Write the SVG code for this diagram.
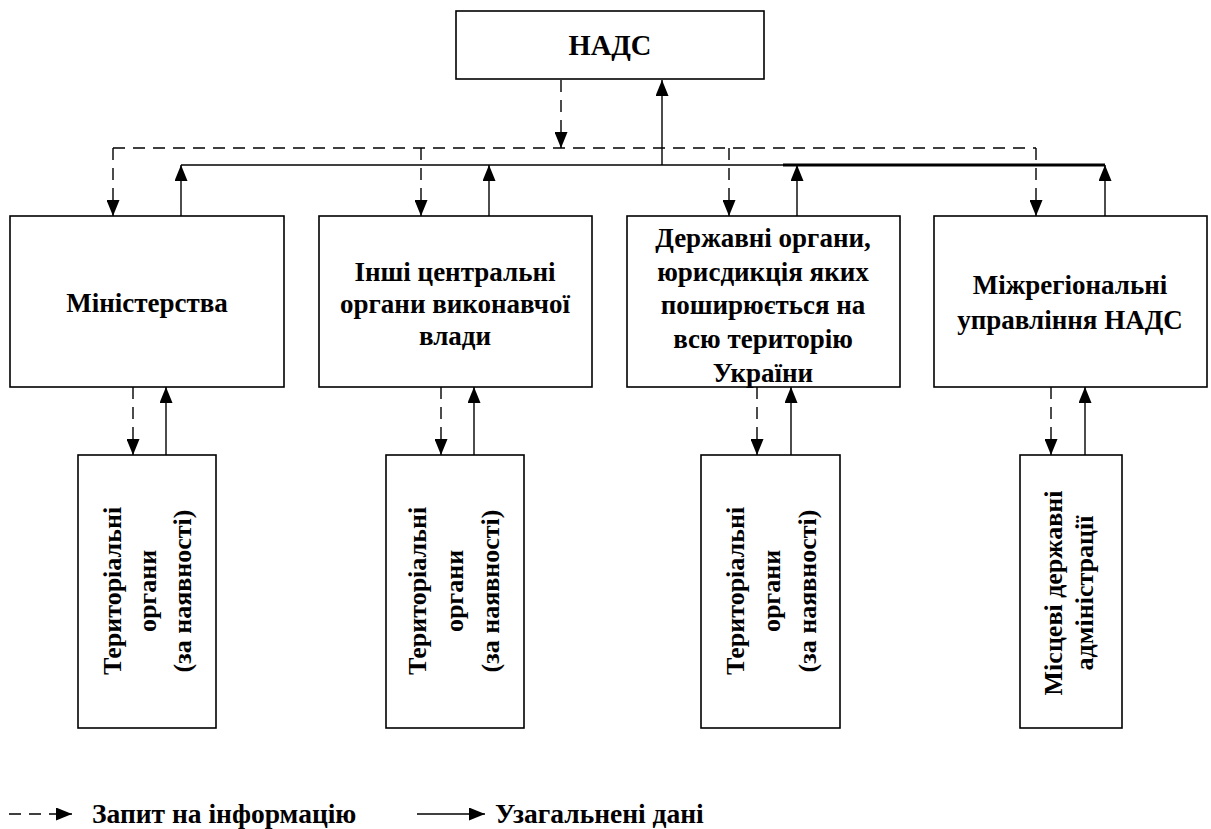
<svg xmlns="http://www.w3.org/2000/svg" width="1211" height="829" viewBox="0 0 1211 829">
<style>
.box{fill:#fff;stroke:#000;stroke-width:1.6}
.t{font-family:"Liberation Serif","Times New Roman",serif;font-weight:bold;font-size:27px;fill:#000;text-anchor:middle}
.tv{font-family:"Liberation Serif","Times New Roman",serif;font-weight:bold;font-size:26px;fill:#000;text-anchor:middle}
.lg{font-family:"Liberation Serif","Times New Roman",serif;font-weight:bold;font-size:27.5px;fill:#000}
.sl{fill:none;stroke:#000;stroke-width:1.4}
.dl{fill:none;stroke:#000;stroke-width:1.4;stroke-dasharray:12 8}
</style>
<defs>
<marker id="ah" viewBox="0 0 16 13" refX="16" refY="6.5" markerWidth="16" markerHeight="13" markerUnits="userSpaceOnUse" orient="auto">
<path d="M0,0 L16,6.5 L0,13 z" fill="#000"/>
</marker>
</defs>

<g id="connectors">
<line class="dl" x1="561" y1="80" x2="561" y2="148" marker-end="url(#ah)"/>
<line class="sl" x1="662" y1="165" x2="662" y2="80" marker-end="url(#ah)"/>
<line class="dl" x1="113" y1="148" x2="1036" y2="148"/>
<line class="sl" x1="181" y1="165" x2="1105" y2="165"/>
<line x1="783" y1="165" x2="1105" y2="165" stroke="#000" stroke-width="3.2"/>
<line class="dl" x1="113" y1="148" x2="113" y2="216" marker-end="url(#ah)"/>
<line class="dl" x1="421" y1="148" x2="421" y2="216" marker-end="url(#ah)"/>
<line class="dl" x1="729" y1="148" x2="729" y2="216" marker-end="url(#ah)"/>
<line class="dl" x1="1036" y1="148" x2="1036" y2="216" marker-end="url(#ah)"/>
<line class="sl" x1="181" y1="216" x2="181" y2="165" marker-end="url(#ah)"/>
<line class="sl" x1="489" y1="216" x2="489" y2="165" marker-end="url(#ah)"/>
<line class="sl" x1="797" y1="216" x2="797" y2="165" marker-end="url(#ah)"/>
<line class="sl" x1="1105" y1="216" x2="1105" y2="165" marker-end="url(#ah)"/>
<line class="dl" x1="133" y1="387" x2="133" y2="455" marker-end="url(#ah)"/>
<line class="sl" x1="166" y1="455" x2="166" y2="387" marker-end="url(#ah)"/>
<line class="dl" x1="441" y1="387" x2="441" y2="455" marker-end="url(#ah)"/>
<line class="sl" x1="474" y1="455" x2="474" y2="387" marker-end="url(#ah)"/>
<line class="dl" x1="757" y1="387" x2="757" y2="455" marker-end="url(#ah)"/>
<line class="sl" x1="791" y1="455" x2="791" y2="387" marker-end="url(#ah)"/>
<line class="dl" x1="1051" y1="387" x2="1051" y2="455" marker-end="url(#ah)"/>
<line class="sl" x1="1085" y1="455" x2="1085" y2="387" marker-end="url(#ah)"/>
</g>

<g id="nads">
<rect class="box" x="456" y="11" width="308" height="68"/>
<text class="t" x="610" y="55" style="font-size:28.5px">НАДС</text>
</g>

<g id="ministries">
<rect class="box" x="10" y="216" width="274" height="171"/>
<text class="t" x="147" y="312">Міністерства</text>
</g>

<g id="central">
<rect class="box" x="319" y="216" width="273" height="171"/>
<text class="t" x="455" y="281">Інші центральні</text>
<text class="t" x="455" y="313">органи виконавчої</text>
<text class="t" x="455" y="345">влади</text>
</g>

<g id="state">
<rect class="box" x="627" y="216" width="273" height="171"/>
<text class="t" x="763" y="247">Державні органи,</text>
<text class="t" x="763" y="281">юрисдикція яких</text>
<text class="t" x="763" y="314">поширюється на</text>
<text class="t" x="763" y="348">всю територію</text>
<text class="t" x="763" y="382">України</text>
</g>

<g id="interregional">
<rect class="box" x="934" y="216" width="273" height="171"/>
<text class="t" x="1070" y="294">Міжрегіональні</text>
<text class="t" x="1070" y="329">управління НАДС</text>
</g>

<g id="terr1">
<rect class="box" x="78" y="455" width="138" height="273"/>
<text class="tv" transform="translate(121,591) rotate(-90)">Територіальні</text>
<text class="tv" transform="translate(156,591) rotate(-90)">органи</text>
<text class="tv" transform="translate(191,591) rotate(-90)">(за наявності)</text>
</g>

<g id="terr2">
<rect class="box" x="386" y="455" width="138" height="273"/>
<text class="tv" transform="translate(426,591) rotate(-90)">Територіальні</text>
<text class="tv" transform="translate(463,591) rotate(-90)">органи</text>
<text class="tv" transform="translate(499,591) rotate(-90)">(за наявності)</text>
</g>

<g id="terr3">
<rect class="box" x="701" y="455" width="139" height="273"/>
<text class="tv" transform="translate(744,591) rotate(-90)">Територіальні</text>
<text class="tv" transform="translate(780,591) rotate(-90)">органи</text>
<text class="tv" transform="translate(816,591) rotate(-90)">(за наявності)</text>
</g>

<g id="local">
<rect class="box" x="1020" y="455" width="102" height="273"/>
<text class="tv" transform="translate(1062,593) rotate(-90)">Місцеві державні</text>
<text class="tv" transform="translate(1093,593) rotate(-90)">адміністрації</text>
</g>

<g id="legend">
<line class="dl" x1="9" y1="814" x2="72" y2="814" stroke-dasharray="12 7" marker-end="url(#ah)"/>
<text class="lg" x="92" y="823">Запит на інформацію</text>
<line class="sl" x1="417" y1="814" x2="485" y2="814" marker-end="url(#ah)"/>
<text class="lg" x="495" y="823">Узагальнені дані</text>
</g>
</svg>
